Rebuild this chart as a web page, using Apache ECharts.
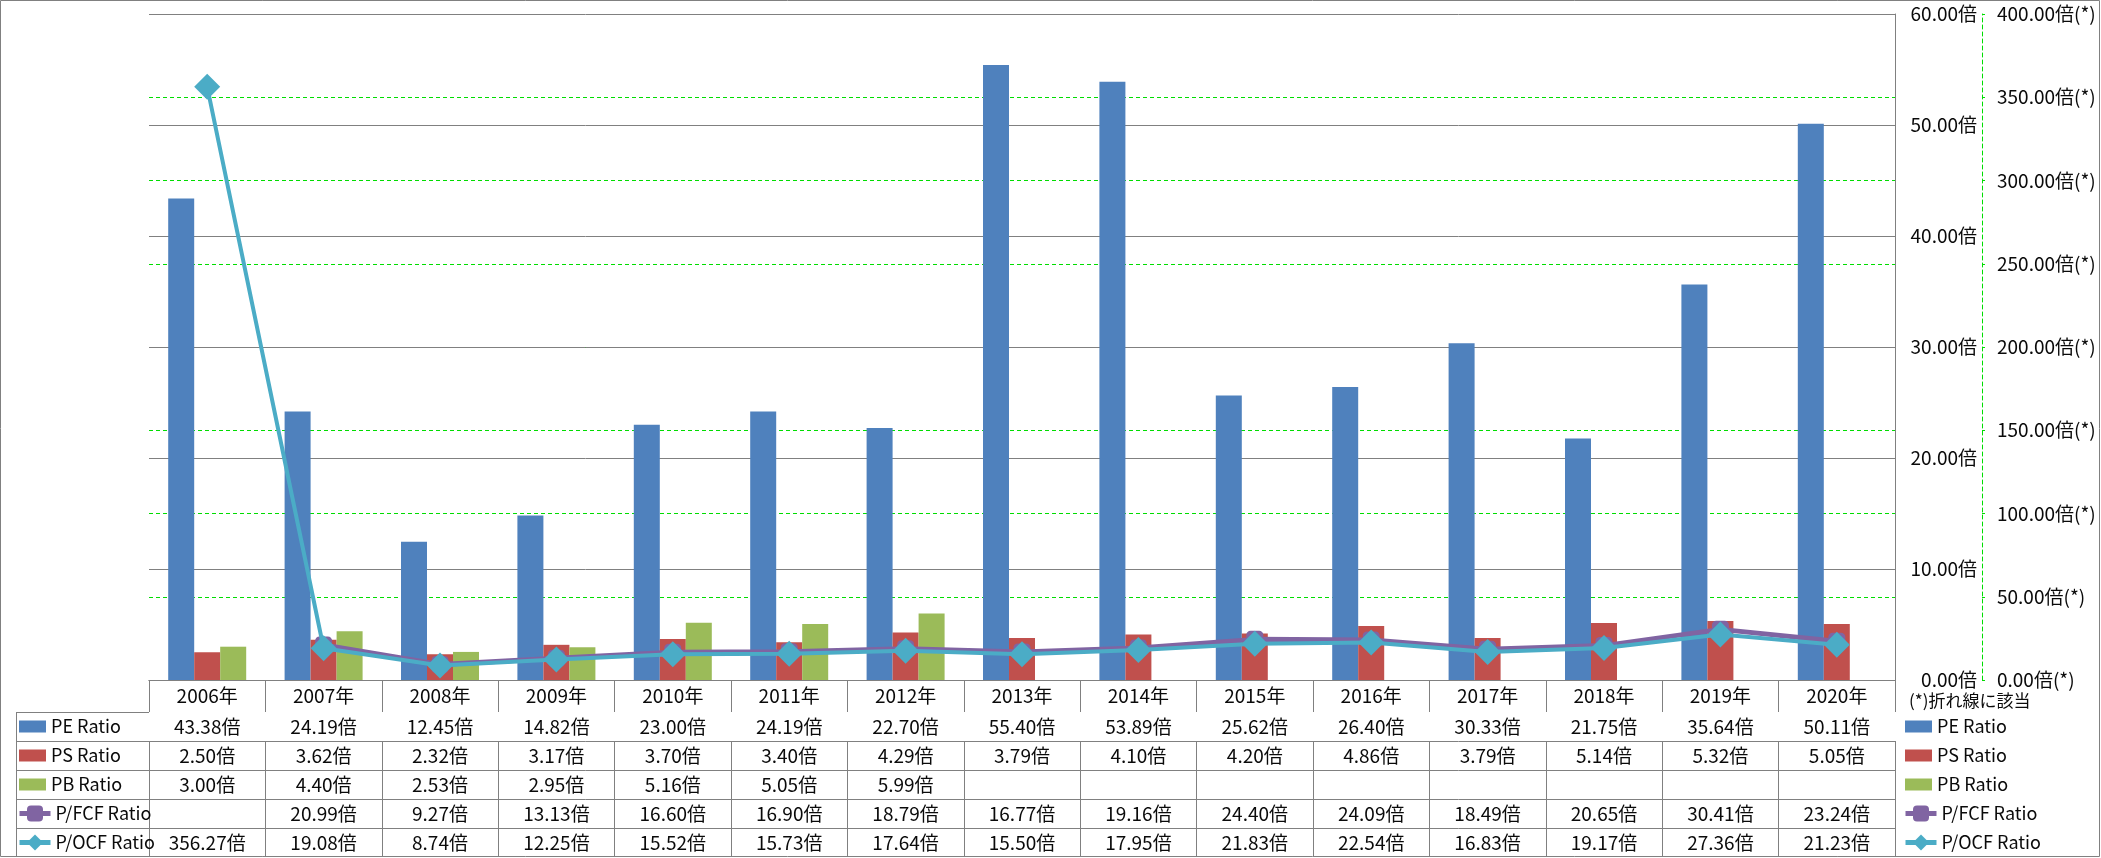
<!DOCTYPE html>
<html><head><meta charset="utf-8">
<script src="https://cdn.jsdelivr.net/npm/echarts@6/dist/echarts.min.js"></script>
<style>html,body{margin:0;padding:0;background:#fff}#c{width:2101px;height:858px}</style>
</head><body><div id="c"></div>
<script>
const years = ['2006年','2007年','2008年','2009年','2010年','2011年','2012年','2013年','2014年','2015年','2016年','2017年','2018年','2019年','2020年'];
const peRatio = [43.38,24.19,12.45,14.82,23.00,24.19,22.70,55.40,53.89,25.62,26.40,30.33,21.75,35.64,50.11];
const psRatio = [2.50,3.62,2.32,3.17,3.70,3.40,4.29,3.79,4.10,4.20,4.86,3.79,5.14,5.32,5.05];
const pbRatio = [3.00,4.40,2.53,2.95,5.16,5.05,5.99,null,null,null,null,null,null,null,null];
const pfcfRatio = [null,20.99,9.27,13.13,16.60,16.90,18.79,16.77,19.16,24.40,24.09,18.49,20.65,30.41,23.24];
const pocfRatio = [356.27,19.08,8.74,12.25,15.52,15.73,17.64,15.50,17.95,21.83,22.54,16.83,19.17,27.36,21.23];
const seriesNames = ['PE Ratio','PS Ratio','PB Ratio','P/FCF Ratio','P/OCF Ratio'];
const leftTicks = [0,10,20,30,40,50,60];
const rightTicks = [0,50,100,150,200,250,300,350,400];

const FONT = '"Noto Sans CJK JP", "Noto Sans", sans-serif';
const GRAY = '#808080';
const GREEN = '#00DD00';
const TXT = '#0a0a0a';
const colors = ['#4F81BD','#C0504D','#9BBB59','#8064A2','#4BACC6'];

const G = {left:149, right:206, top:14, bottom:178};
const rowTops = [712,741,770,799,828];
const rowH = 29;
const rows = [peRatio, psRatio, pbRatio, pfcfRatio, pocfRatio];
const fmt = v => (v === null || v === undefined) ? '' : v.toFixed(2) + '倍';
const FS = 19;

const xAxes = [{
  type:'category', data: years, position:'bottom', gridIndex:0,
  axisLine:{show:true, lineStyle:{color:GRAY, width:1}},
  axisTick:{show:true, interval:0, length:32, alignWithLabel:false, lineStyle:{color:GRAY}},
  axisLabel:{interval:0, margin:6.5, color:TXT, fontFamily:FONT, fontSize:FS, lineHeight:FS},
  splitLine:{show:false}
}];
rows.forEach((arr, i) => {
  xAxes.push({
    type:'category', data: years, position:'bottom', gridIndex:0, offset: rowTops[i] - 680,
    axisLine:{show:true, lineStyle:{color:GRAY, width:1}},
    axisTick:{show:true, interval:0, length:rowH, alignWithLabel:false, lineStyle:{color:GRAY}},
    axisLabel:{interval:0, margin:5, color:TXT, fontFamily:FONT, fontSize:FS, lineHeight:FS,
      formatter:(v, idx) => fmt(arr[idx])},
    splitLine:{show:false}
  });
});

const graphics = [
  {type:'rect', shape:{x:0.5, y:0.5, width:2099, height:856}, style:{fill:'none', stroke:GRAY, lineWidth:1}, silent:true},
  {type:'line', shape:{x1:16.5, y1:712, x2:16.5, y2:857}, style:{stroke:GRAY, lineWidth:1}, silent:true},
  {type:'text', left:1909, top:692, style:{text:'(*)折れ線に該当', font:'17px ' + FONT, fill:TXT}, silent:true}
];
rowTops.forEach(t => graphics.push({type:'line', shape:{x1:16.5, y1:t+0.5, x2:149, y2:t+0.5}, style:{stroke:GRAY, lineWidth:1}, silent:true}));

const barLegendData = seriesNames.slice(0,3).map(n => ({name:n, icon:'rect'}));
const lineLegendData = seriesNames.slice(3).map(n => ({name:n}));
const legendText = {fontFamily:FONT, fontSize:18, lineHeight:20, color:TXT};
const mkLegends = (x) => [
  {orient:'vertical', left:x, top:716.5, padding:0, itemWidth:27, itemHeight:12, itemGap:9, data:barLegendData,
   textStyle:legendText, selectedMode:false},
  {orient:'vertical', left:x-2, top:803.5, padding:0, itemWidth:31, itemHeight:20, itemGap:9, data:lineLegendData,
   lineStyle:{width:5}, textStyle:legendText, selectedMode:false}
];

const option = {
  animation:false,
  color: colors,
  textStyle:{fontFamily:FONT},
  grid:{left:G.left, right:G.right, top:G.top, bottom:G.bottom, containLabel:false},
  legend: mkLegends(19).concat(mkLegends(1905)),
  xAxis: xAxes,
  yAxis:[
    {type:'value', position:'right', min:0, max:60, interval:10,
     axisLine:{show:true, lineStyle:{color:GRAY}}, axisTick:{show:false},
     axisLabel:{formatter:v => v.toFixed(2)+'倍', align:'right', margin:82, color:TXT, fontFamily:FONT, fontSize:FS},
     splitLine:{show:true, lineStyle:{color:GRAY, width:1}}, z:1},
    {type:'value', position:'right', offset:87, min:0, max:400, interval:50,
     axisLine:{show:true, lineStyle:{color:GREEN, type:[4,3], width:1}},
     axisTick:{show:true, length:3, lineStyle:{color:GREEN}},
     axisLabel:{formatter:v => v.toFixed(2)+'倍(*)', margin:15, color:TXT, fontFamily:FONT, fontSize:FS},
     splitLine:{show:true, showMinLine:false, showMaxLine:false, lineStyle:{color:GREEN, type:[4,3], width:1}}}
  ],
  graphic: graphics,
  series:[
    {name:seriesNames[0], type:'bar', data:peRatio, barWidth:26, barGap:'0%', xAxisIndex:0, yAxisIndex:0, itemStyle:{color:colors[0]}},
    {name:seriesNames[1], type:'bar', data:psRatio, barWidth:26, barGap:'0%', xAxisIndex:0, yAxisIndex:0, itemStyle:{color:colors[1]}},
    {name:seriesNames[2], type:'bar', data:pbRatio, barWidth:26, barGap:'0%', xAxisIndex:0, yAxisIndex:0, itemStyle:{color:colors[2]}},
    {name:seriesNames[3], type:'line', data:pfcfRatio, xAxisIndex:0, yAxisIndex:1, symbol:'roundRect', symbolSize:17,
     lineStyle:{width:5, color:colors[3]}, itemStyle:{color:colors[3]}, z:3},
    {name:seriesNames[4], type:'line', data:pocfRatio, xAxisIndex:0, yAxisIndex:1, symbol:'diamond', symbolSize:26,
     lineStyle:{width:4, color:colors[4]}, itemStyle:{color:colors[4]}, z:4}
  ]
};
const chart = echarts.init(document.getElementById('c'));
chart.setOption(option);
</script></body></html>
